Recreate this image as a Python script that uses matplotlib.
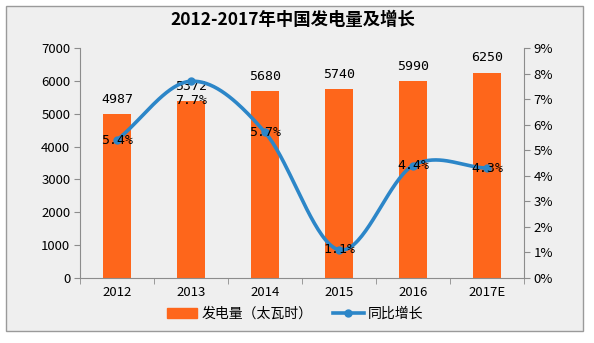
import numpy as np
import matplotlib.pyplot as plt
from matplotlib.patches import Rectangle
from matplotlib.lines import Line2D

plt.rcParams['font.family'] = ['Noto Sans CJK SC', 'DejaVu Sans']

years = ['2012', '2013', '2014', '2015', '2016', '2017E']
output_twh = [4987, 5372, 5680, 5740, 5990, 6250]
growth_pct = [5.4, 7.7, 5.7, 1.1, 4.4, 4.3]

bar_color = '#fe661b'
line_color = '#2c86c8'
axis_color = '#8c8c8c'


def smooth(xs, ys, n=40):
    # catmull-rom through the points, like a spreadsheet "smoothed line"
    xs = np.asarray(xs, float)
    ys = np.asarray(ys, float)
    px = np.concatenate([[2 * xs[0] - xs[1]], xs, [2 * xs[-1] - xs[-2]]])
    py = np.concatenate([[2 * ys[0] - ys[1]], ys, [2 * ys[-1] - ys[-2]]])
    out_x, out_y = [], []
    t = np.linspace(0, 1, n)
    for i in range(1, len(px) - 2):
        for arr, res in ((px, out_x), (py, out_y)):
            p0, p1, p2, p3 = arr[i - 1], arr[i], arr[i + 1], arr[i + 2]
            res.extend(0.5 * ((2 * p1) + (-p0 + p2) * t
                              + (2 * p0 - 5 * p1 + 4 * p2 - p3) * t ** 2
                              + (-p0 + 3 * p1 - 3 * p2 + p3) * t ** 3))
    return np.array(out_x), np.array(out_y)


fig = plt.figure(figsize=(5.94, 3.43), dpi=100)
fig.patch.set_facecolor('white')
fig.patches.append(Rectangle((6 / 594, 1 - 331 / 343), 577 / 594, 325 / 343,
                             transform=fig.transFigure, facecolor='#efefef',
                             edgecolor='#9a9a9a', linewidth=1.0, zorder=-1))

ax = fig.add_axes([80 / 594, 1 - 278 / 343, 444 / 594, 230 / 343])
ax.set_facecolor('none')
x = np.arange(len(years))
ax.bar(x, output_twh, width=0.38, color=bar_color, zorder=2)
ax.set_xlim(-0.5, len(years) - 0.5)
ax.set_ylim(0, 7000)
ax.set_yticks(range(0, 7001, 1000))
ax.set_xticks(x)
ax.set_xticklabels(years)
ax.set_xticks(np.arange(-0.5, len(years)), minor=True)
ax.tick_params(axis='x', which='major', length=0, pad=6, labelsize=9.5)
ax.tick_params(axis='x', which='minor', length=4, color=axis_color)
ax.tick_params(axis='y', length=4, color=axis_color, labelsize=9.5, pad=3)
for s in ('top', 'right'):
    ax.spines[s].set_visible(False)
for s in ('left', 'bottom'):
    ax.spines[s].set_color(axis_color)

for xi, v in zip(x, output_twh):
    ax.text(xi, v + 250, str(v), ha='center', va='bottom', fontsize=9.5,
            family='DejaVu Sans Mono', zorder=5)

ax2 = ax.twinx()
ax2.set_ylim(0, 9)
ax2.set_yticks(range(10))
ax2.set_yticklabels([f'{i}%' for i in range(10)])
ax2.tick_params(axis='y', length=4, color=axis_color, labelsize=9.5, pad=3)
for s in ('top', 'left', 'bottom'):
    ax2.spines[s].set_visible(False)
ax2.spines['right'].set_color(axis_color)

sx, sy = smooth(x, growth_pct)
ax2.plot(sx, sy, color=line_color, linewidth=2.6, zorder=3)
ax2.plot(x, growth_pct, 'o', color=line_color, markersize=5, zorder=4)
for xi, g in zip(x, growth_pct):
    dy = -0.75 if g == max(growth_pct) else 0
    ax2.text(xi, g + dy, f'{g}%', ha='center', va='center', fontsize=9.5,
             family='DejaVu Sans Mono', zorder=5)

fig.text(293 / 594, 1 - 20 / 343, '2012-2017年中国发电量及增长', ha='center',
         va='center', fontsize=12.5, fontweight='bold')

handles = [Rectangle((0, 0), 1, 1, color=bar_color),
           Line2D([0], [0], color=line_color, linewidth=2.6, marker='o',
                  markersize=5)]
fig.legend(handles, ['发电量（太瓦时）', '同比增长'], loc='center',
           bbox_to_anchor=(295 / 594, 1 - 314 / 343), ncol=2, frameon=False,
           fontsize=10, handlelength=2.2, columnspacing=1.5, handletextpad=0.3)

fig.savefig('out.png', dpi=100, facecolor=fig.get_facecolor())
